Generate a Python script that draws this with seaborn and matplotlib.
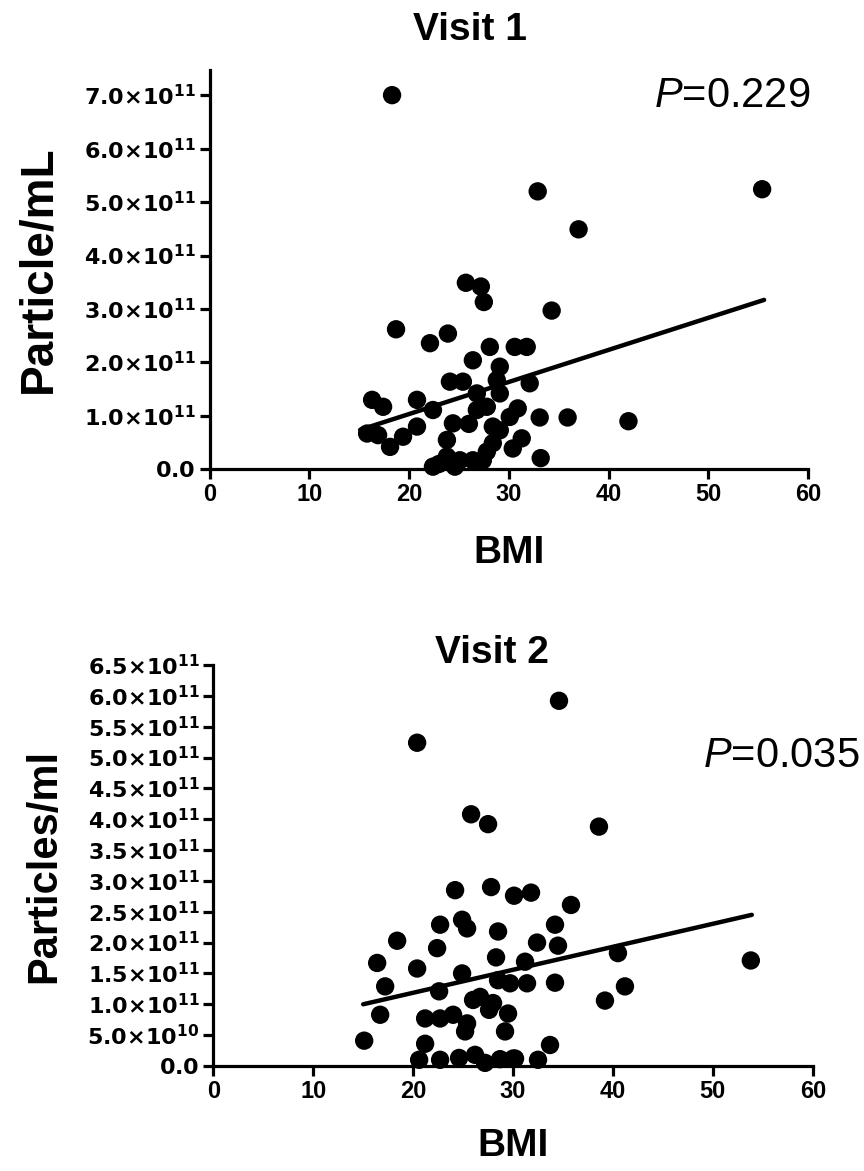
import matplotlib
matplotlib.use("Agg")
import matplotlib.pyplot as plt
import seaborn as sns
import pandas as pd
from matplotlib.ticker import FixedLocator, FixedFormatter

# Visit 1: BMI vs particles (values in 1e11 particles/mL)
bmi_v1 = [18.3, 25.7, 27.2, 27.5, 18.7, 22.1, 23.9, 26.4, 28.1, 24.1,
          25.4, 16.3, 17.4, 20.8, 15.8, 16.9, 18.1, 19.4, 20.8, 22.4,
          24.4, 23.8, 23.8, 22.4, 25.1, 26.4, 27.4, 26.8, 26.8, 27.8,
          28.4, 28.4, 32.9, 55.4, 37.0, 34.3, 30.6, 31.8, 29.1, 28.8,
          29.1, 32.1, 30.9, 30.1, 29.1, 33.1, 35.9, 42.0, 31.3, 30.4,
          33.2, 27.8, 26.0, 23.0, 24.6]
part_v1 = [7.00, 3.49, 3.42, 3.13, 2.62, 2.36, 2.54, 2.04, 2.29, 1.64,
           1.64, 1.30, 1.17, 1.30, 0.67, 0.64, 0.42, 0.61, 0.80, 1.11,
           0.86, 0.55, 0.24, 0.05, 0.17, 0.17, 0.17, 1.11, 1.42, 1.17,
           0.80, 0.49, 5.20, 5.24, 4.49, 2.97, 2.29, 2.29, 1.92, 1.67,
           1.42, 1.61, 1.14, 0.98, 0.73, 0.97, 0.97, 0.90, 0.58, 0.39,
           0.21, 0.33, 0.85, 0.10, 0.05]

# Visit 2
bmi_v2 = [20.4, 25.8, 27.5, 24.2, 27.8, 22.7, 24.9, 25.4, 18.4, 16.4,
          22.4, 20.4, 17.2, 16.7, 15.1, 24.9, 28.5, 28.3, 22.6, 21.2,
          22.7, 24.0, 25.4, 25.2, 21.2, 20.6, 22.7, 24.6, 26.2, 27.2,
          28.7, 26.7, 27.6, 34.6, 38.6, 30.1, 31.8, 35.8, 34.2, 32.4,
          34.5, 31.2, 40.5, 53.8, 31.4, 34.2, 29.7, 28.5, 41.2, 39.2,
          28.0, 29.5, 29.2, 33.7, 30.2, 32.5, 26.0, 30.0]
part_v2 = [5.24, 4.08, 3.92, 2.85, 2.90, 2.29, 2.37, 2.23, 2.03, 1.67,
           1.91, 1.58, 1.29, 0.83, 0.41, 1.50, 2.18, 1.76, 1.21, 0.77,
           0.77, 0.83, 0.69, 0.56, 0.36, 0.10, 0.10, 0.13, 0.18, 0.05,
           0.11, 1.12, 0.91, 5.92, 3.88, 2.76, 2.81, 2.61, 2.29, 2.00,
           1.95, 1.69, 1.83, 1.71, 1.34, 1.35, 1.34, 1.39, 1.29, 1.06,
           1.02, 0.85, 0.56, 0.34, 0.12, 0.10, 1.07, 0.12]

# regression lines as drawn in the figure (ends)
fit_bmi_v1 = [15.1, 55.6]
fit_part_v1 = [0.74, 3.17]
fit_bmi_v2 = [15.0, 53.9]
fit_part_v2 = [1.00, 2.45]

x_ticks = [0, 10, 20, 30, 40, 50, 60]
y_ticks_v1 = [0, 1, 2, 3, 4, 5, 6, 7]
y_labels_v1 = [r"$\mathbf{0.0}$"] + [r"$\mathbf{%d.0{\times}10^{11}}$" % v for v in y_ticks_v1[1:]]
y_ticks_v2 = [0, 0.5, 1.0, 1.5, 2.0, 2.5, 3.0, 3.5, 4.0, 4.5, 5.0, 5.5, 6.0, 6.5]
y_labels_v2 = [r"$\mathbf{0.0}$", r"$\mathbf{5.0{\times}10^{10}}$"] + \
    [r"$\mathbf{%.1f{\times}10^{11}}$" % v for v in y_ticks_v2[2:]]

sns.set_style("ticks")
plt.rcParams['font.family'] = ['Liberation Sans', 'DejaVu Sans']
plt.rcParams['mathtext.fontset'] = 'custom'
plt.rcParams['mathtext.rm'] = 'DejaVu Sans:bold'
plt.rcParams['mathtext.bf'] = 'DejaVu Sans:bold'
plt.rcParams['mathtext.it'] = 'Liberation Sans:italic'
for k in ['text.color', 'axes.labelcolor', 'xtick.color', 'ytick.color']:
    plt.rcParams[k] = 'black'

df1 = pd.DataFrame({'BMI': bmi_v1, 'val': [v * 1e11 for v in part_v1]})
df2 = pd.DataFrame({'BMI': bmi_v2, 'val': [v * 1e11 for v in part_v2]})

fig = plt.figure(figsize=(8.64, 11.71), dpi=100)
ax1 = fig.add_axes([0.2425, 0.5992, 0.6927, 0.3410])
ax2 = fig.add_axes([0.2469, 0.0897, 0.6938, 0.3424])


def style_axis(ax, yticks, ylabels, ytop):
    ax.set_xlim(0, 60)
    ax.set_ylim(0, ytop)
    ax.xaxis.set_major_locator(FixedLocator(x_ticks))
    ax.set_xticklabels([str(t) for t in x_ticks], fontsize=17, fontweight='bold')
    ax.yaxis.set_major_locator(FixedLocator([v * 1e11 for v in yticks]))
    ax.yaxis.set_major_formatter(FixedFormatter(ylabels))
    for lab in ax.get_yticklabels():
        lab.set_fontsize(16)
    for s in ['top', 'right']:
        ax.spines[s].set_visible(False)
    for s in ['left', 'bottom']:
        ax.spines[s].set_linewidth(2.3)
        ax.spines[s].set_color('black')
    ax.tick_params(width=2.3, length=7, color='black', pad=3)
    ax.set_facecolor('white')


sns.scatterplot(data=df1, x='BMI', y='val', ax=ax1, color='black', s=175,
                edgecolor='none', linewidth=0, clip_on=False, zorder=3)
sns.lineplot(x=fit_bmi_v1, y=[v * 1e11 for v in fit_part_v1], ax=ax1,
             color='black', linewidth=3.2, zorder=4)
style_axis(ax1, y_ticks_v1, y_labels_v1, 7.47e11)
ax1.set_xlabel('BMI', fontsize=28, fontweight='bold')
ax1.set_ylabel('Particle/mL', fontsize=33, fontweight='bold')
ax1.xaxis.set_label_coords(0.5, -0.165)
ax1.yaxis.set_label_coords(-0.25, 0.5)
ax1.text(0.435, 1.075, 'Visit 1', transform=ax1.transAxes, ha='center',
         va='baseline', fontsize=28, fontweight='bold')
ax1.text(60.2, 6.78e11, r'$\mathit{P}$=0.229', ha='right', va='baseline',
         fontsize=30)

sns.scatterplot(data=df2, x='BMI', y='val', ax=ax2, color='black', s=175,
                edgecolor='none', linewidth=0, clip_on=False, zorder=3)
sns.lineplot(x=fit_bmi_v2, y=[v * 1e11 for v in fit_part_v2], ax=ax2,
             color='black', linewidth=3.2, zorder=4)
style_axis(ax2, y_ticks_v2, y_labels_v2, 6.5e11)
ax2.set_xlabel('BMI', fontsize=28, fontweight='bold')
ax2.set_ylabel('Particles/ml', fontsize=30, fontweight='bold')
ax2.xaxis.set_label_coords(0.5, -0.155)
ax2.yaxis.set_label_coords(-0.249, 0.5)
ax2.text(0.465, 1.005, 'Visit 2', transform=ax2.transAxes, ha='center',
         va='baseline', fontsize=28, fontweight='bold')
ax2.text(49.05, 4.85e11, r'$\mathit{P}$=0.035', ha='left', va='baseline',
         fontsize=30, clip_on=False)

fig.savefig('out.png', dpi=100, facecolor='white')
